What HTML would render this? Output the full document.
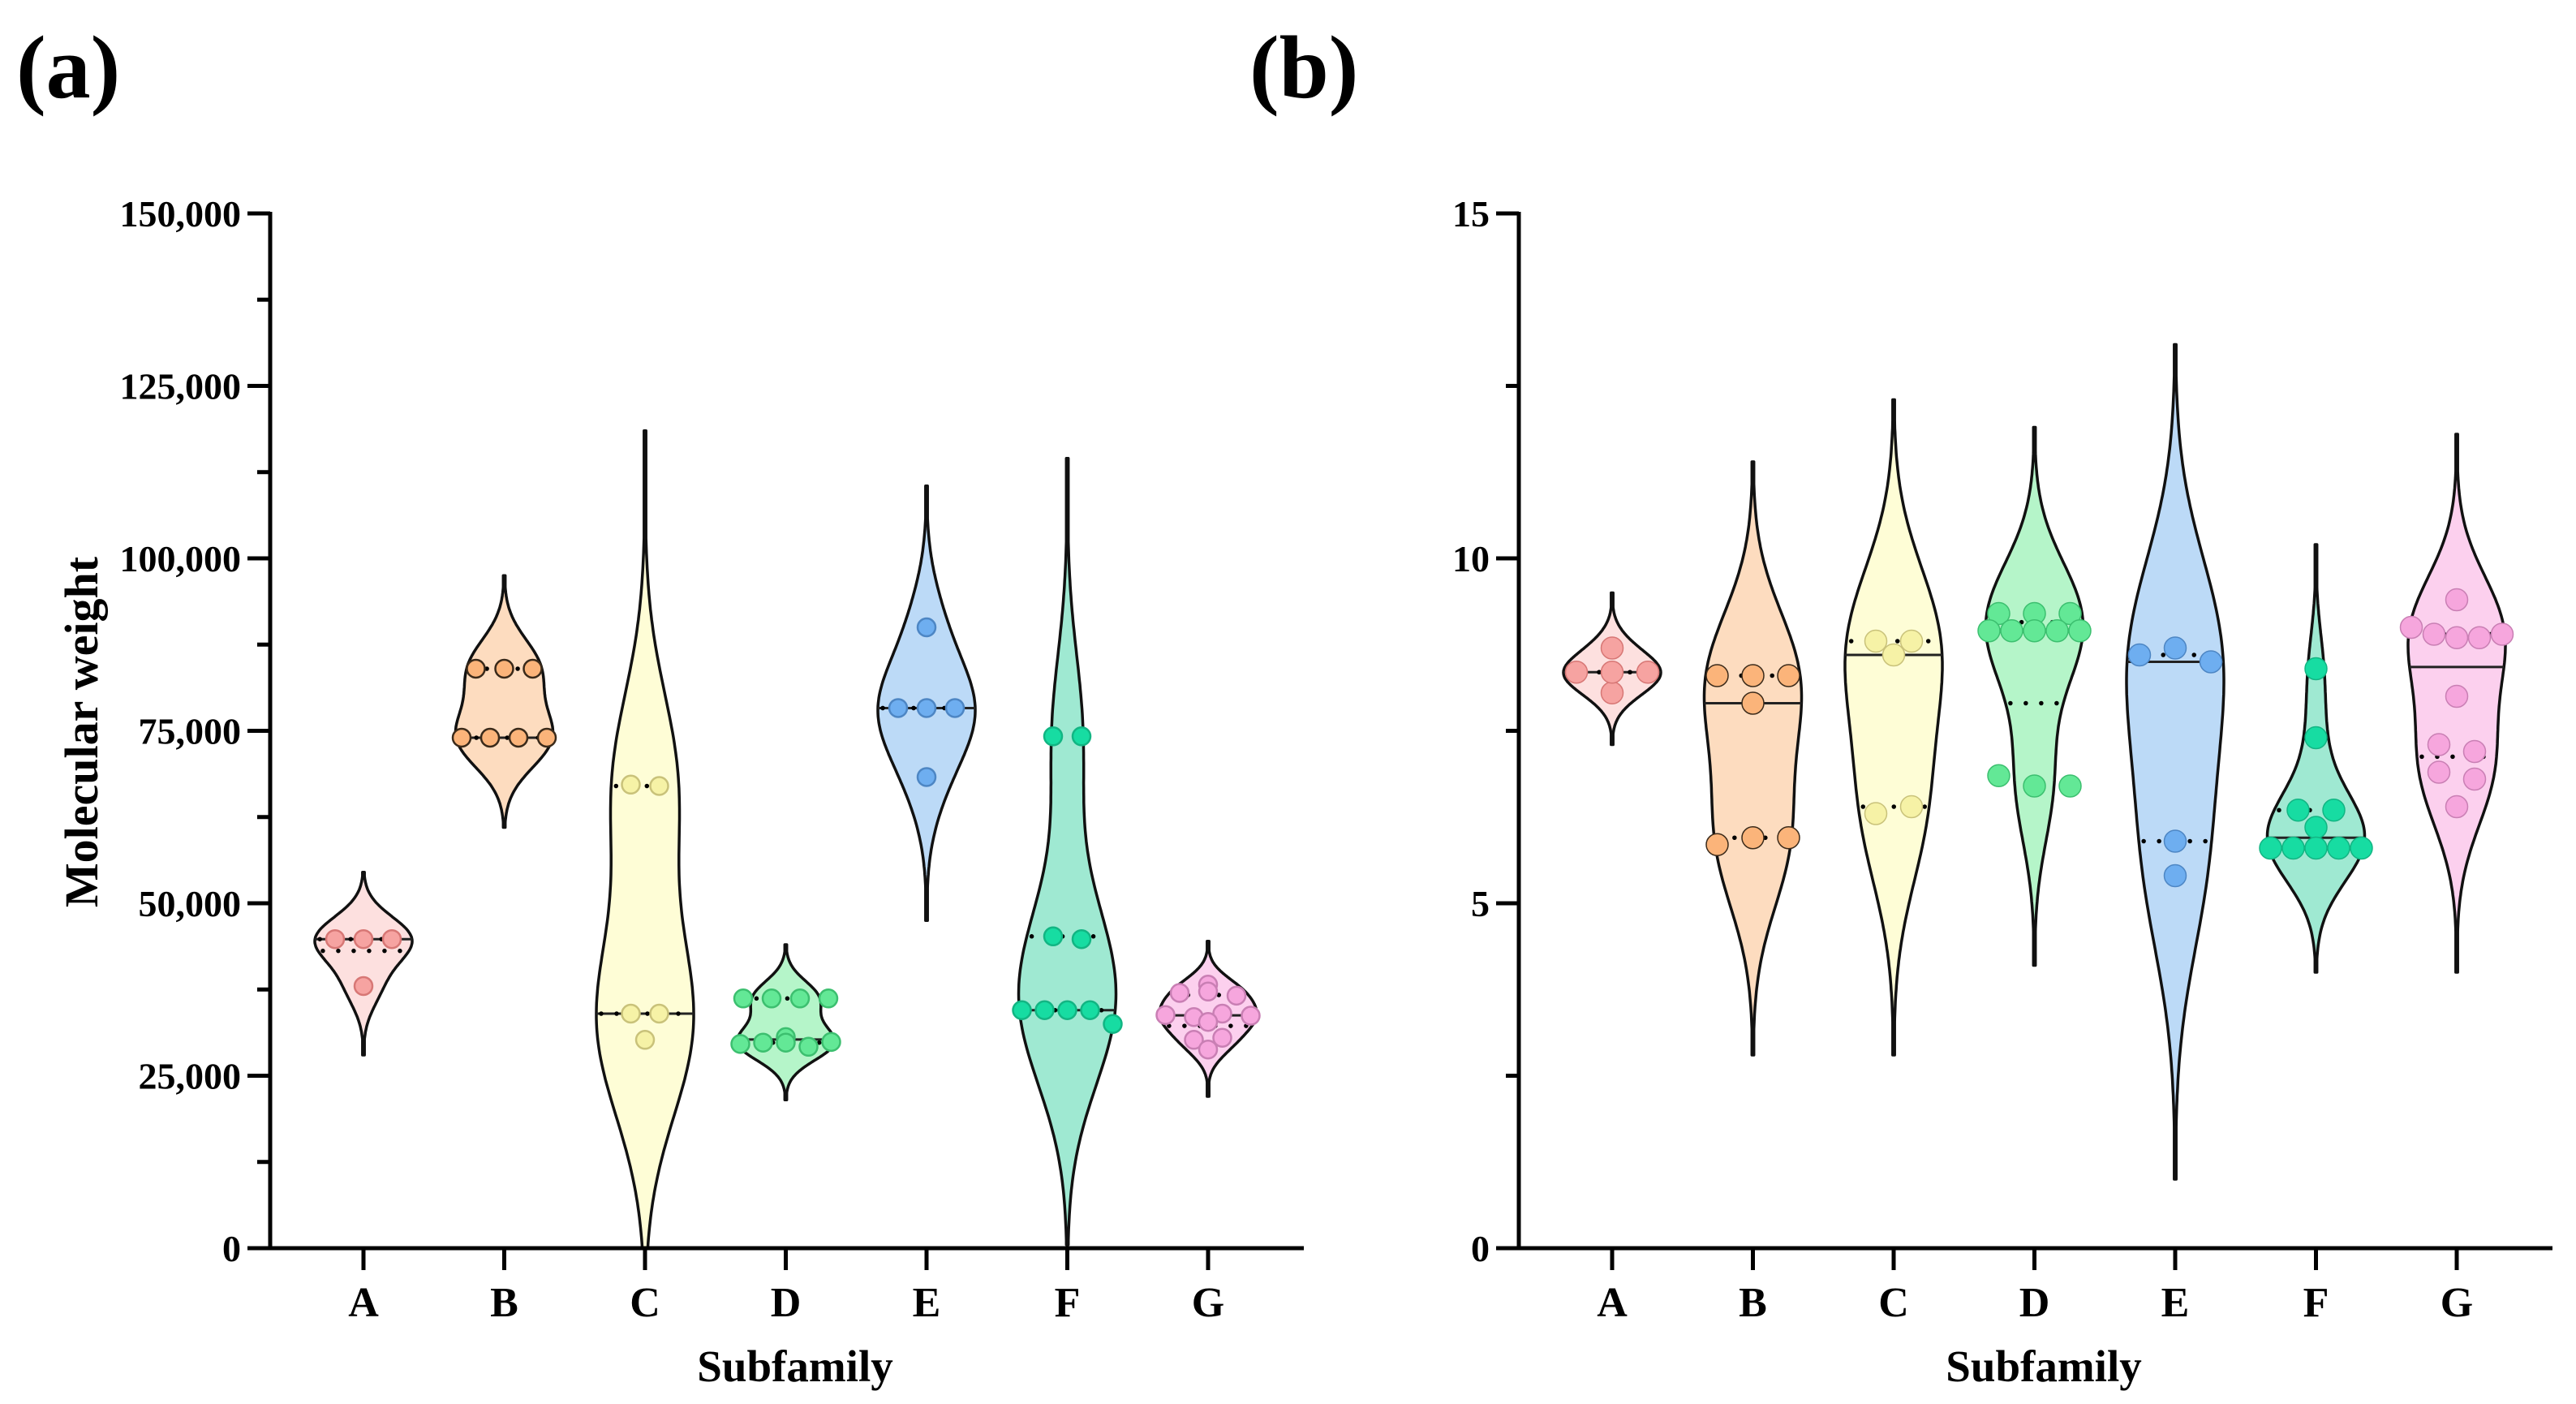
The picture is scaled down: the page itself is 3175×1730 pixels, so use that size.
<!DOCTYPE html>
<html><head><meta charset="utf-8"><style>
html,body{margin:0;padding:0;background:#fff;}
svg{display:block;}
text{font-family:"Liberation Serif",serif;font-weight:bold;fill:#000;}
</style></head><body>
<svg id="fig" width="3175" height="1730" viewBox="0 0 3175 1730">
<text x="20" y="120" font-size="110">(a)</text>
<text x="1540" y="120" font-size="110">(b)</text>
<g id="pa"></g>
<g id="pb"></g>
</svg>
<script>
const categories = ["A","B","C","D","E","F","G"];
const fills = ["#fde0df","#fddcbf","#fefdd6","#b5f5c9","#bcdaf7","#9fe9d2","#fcd0ee"];
const ptFills = ["#f6a3a1","#fbb47a","#f6f2a6","#63e896","#6eaef0","#17dca2","#f6a6dd"];
const ptStrokes = ["#d77775","#3a2a1a","#c9c27a","#3cbf6f","#4d86c4","#12b583","#c97fb4"];

// Panel (a) molecular weight data
const mwA = [44800,44800,44800,38000];
const mwB = [84000,84000,84000,74000,74000,74000,74000];
const mwC = [67200,67000,34000,34000,30200];
const mwD = [36200,36200,36200,36200,30600,29600,29800,29800,29200,29900];
const mwE = [90000,78300,78300,78300,68300];
const mwF = [74200,74200,45200,44800,34500,34500,34500,34500,32500];
const mwG = [38200,37000,37200,36600,33800,32800,33500,34000,33700,30200,30500,28800];
const mwLo = [28000,61000,0,21500,47500,500,22000];
const mwHi = [54500,97500,118500,44000,110500,114500,44500];
const mwTicks = [0,25000,50000,75000,100000,125000,150000];
const mwTickLabels = ["0","25,000","50,000","75,000","100,000","125,000","150,000"];

// Panel (b) pI data
const piA = [8.05,8.35,8.35,8.35,8.7];
const piB = [8.3,8.3,8.3,7.9,5.85,5.95,5.95];
const piC = [8.8,8.8,8.6,6.3,6.4];
const piD = [9.2,9.2,9.2,8.95,8.95,8.95,8.95,8.95,6.85,6.7,6.7];
const piE = [8.6,8.7,8.5,5.9,5.4];
const piF = [8.4,7.4,6.35,6.35,6.1,5.8,5.8,5.8,5.8,5.8];
const piG = [9.4,9.0,8.9,8.85,8.85,8.9,8.0,7.3,7.2,6.9,6.8,6.4];
const piLo = [7.3,2.8,2.8,4.1,1.0,4.0,4.0];
const piHi = [9.5,11.4,12.3,11.9,13.1,10.2,11.8];
const piTicks = [0,5,10,15];
const piTickLabels = ["0","5","10","15"];

const NS="http://www.w3.org/2000/svg";
function mk(tag,attrs,parent){const e=document.createElementNS(NS,tag);for(const k in attrs)e.setAttribute(k,attrs[k]);parent.appendChild(e);return e;}

function quant(arr,q){const s=[...arr].sort((a,b)=>a-b);const p=(s.length-1)*q;const i=Math.floor(p);const f=p-i;return s[i]+(s[Math.min(i+1,s.length-1)]-s[i])*f;}

function drawPanel(g,cfg){
  const {x0,x1,y0,y1,vmax,groups,lo,hi,ticks,tickLabels,minorStep,r,sp,ptStrokeW,ptStrokeOverride,ytitle} = cfg;
  const yS = v => y0 - (v/vmax)*(y0-y1);
  const step = 173.5;
  const xS = i => x0 + 115 + step*i;
  const halfW = 60;
  groups.forEach((data,i)=>{
    const cx=xS(i);
    const mn=Math.min(...data), mx=Math.max(...data);
    const h=Math.max(((hi[i]-lo[i])-(mx-mn))/6,(hi[i]-lo[i])*0.04);
    const N=160, dens=[];
    for(let k=0;k<=N;k++){const v=lo[i]+(hi[i]-lo[i])*k/N;let d=0;data.forEach(p=>{d+=Math.exp(-0.5*((v-p)/h)**2);});dens.push([v,d]);}
    const dm=Math.max(...dens.map(d=>d[1]));
    let L=[],R=[];
    dens.forEach(([v,d])=>{const w=Math.max(d/dm*halfW,1.2);L.push([cx-w,yS(v)]);R.push([cx+w,yS(v)]);});
    const pts=L.concat(R.reverse()).map(p=>p[0].toFixed(1)+","+p[1].toFixed(1)).join(" ");
    const poly=mk("polygon",{points:pts,fill:fills[i],stroke:"#111","stroke-width":3.5,"stroke-linejoin":"round"},g);
    
    
    const wAt=v=>{let d=0;data.forEach(p=>{d+=Math.exp(-0.5*((v-p)/h)**2);});return d/dm*halfW;};
    const med=quant(data,0.5), q1=quant(data,0.25), q3=quant(data,0.75);
    const ml=mk("line",{x1:cx-wAt(med),x2:cx+wAt(med),y1:yS(med),y2:yS(med),stroke:"#222","stroke-width":3},g);
    
    
    [q1,q3].forEach(q=>{
      const w=wAt(q);
      const ql=mk("line",{x1:cx-w+6,x2:cx+w-4,y1:yS(q),y2:yS(q),stroke:"#000","stroke-width":5.5,"stroke-linecap":"round","stroke-dasharray":"0,19"},g);
      
      
    });
    const tol=(hi[i]-lo[i])*0.02;
    const rows=[];
    data.forEach(v=>{let row=rows.find(rw=>Math.abs(rw.v-v)<tol);if(!row){row={v:v,items:[]};rows.push(row);}row.items.push(v);});
    rows.forEach(row=>{
      const n=row.items.length;
      const s=Math.min(sp,(halfW*2-8)/Math.max(n-1,1));
      row.items.forEach((v,k)=>{
        const px=cx+(k-(n-1)/2)*s;
        const c=mk("circle",{cx:px,cy:yS(v),r:r,fill:ptFills[i],stroke:ptStrokeOverride&&i===1?"#3a2a1a":ptStrokes[i],"stroke-width":ptStrokeW},g);
        
        
      });
    });
  });
  const ya=mk("line",{x1:x0,x2:x0,y1:y1-2,y2:y0+2.5,stroke:"#000","stroke-width":5},g);
  
  
  const xa=mk("line",{x1:x0-28,x2:x1,y1:y0,y2:y0,stroke:"#000","stroke-width":5},g);
  
  
  ticks.forEach((t,k)=>{
    if(k>0){const tl=mk("line",{x1:x0-28,x2:x0,y1:yS(t),y2:yS(t),stroke:"#000","stroke-width":5},g);
      
      }
    const tx=mk("text",{x:x0-36,y:yS(t)+16,"font-size":46,"text-anchor":"end"},g);
    tx.textContent=tickLabels[k];
    
    
  });
  for(let v=minorStep;v<vmax;v+=minorStep*2){
    const ml=mk("line",{x1:x0-16,x2:x0,y1:yS(v),y2:yS(v),stroke:"#000","stroke-width":5},g);
    
    
  }
  categories.forEach((c,i)=>{
    const tl=mk("line",{x1:xS(i),x2:xS(i),y1:y0,y2:y0+27,stroke:"#000","stroke-width":5},g);
    
    
    const tx=mk("text",{x:xS(i),y:y0+84,"font-size":52,"text-anchor":"middle"},g);
    tx.textContent=c;
    
    
  });
  const xt=mk("text",{x:(x0+x1)/2+10,y:1702,"font-size":55,"text-anchor":"middle"},g);
  xt.textContent="Subfamily";
  
  
  if(ytitle){
    const yt=mk("text",{x:0,y:0,"font-size":58,"text-anchor":"middle",transform:"translate(120,902) rotate(-90)"},g);
    yt.textContent=ytitle;
    
    
  }
}
drawPanel(document.getElementById("pa"),{x0:333,x1:1607,y0:1538,y1:263,vmax:150000,
  groups:[mwA,mwB,mwC,mwD,mwE,mwF,mwG],lo:mwLo,hi:mwHi,ticks:mwTicks,tickLabels:mwTickLabels,
  minorStep:12500,r:11,sp:35,ptStrokeW:2.5,ptStrokeOverride:true,ytitle:"Molecular weight"});
drawPanel(document.getElementById("pb"),{x0:1872,x1:3146,y0:1538,y1:263,vmax:15,
  groups:[piA,piB,piC,piD,piE,piF,piG],lo:piLo,hi:piHi,ticks:piTicks,tickLabels:piTickLabels,
  minorStep:2.5,r:13.5,sp:44,ptStrokeW:1.5,ptStrokeOverride:false,ytitle:null});
</script>
</body></html>
